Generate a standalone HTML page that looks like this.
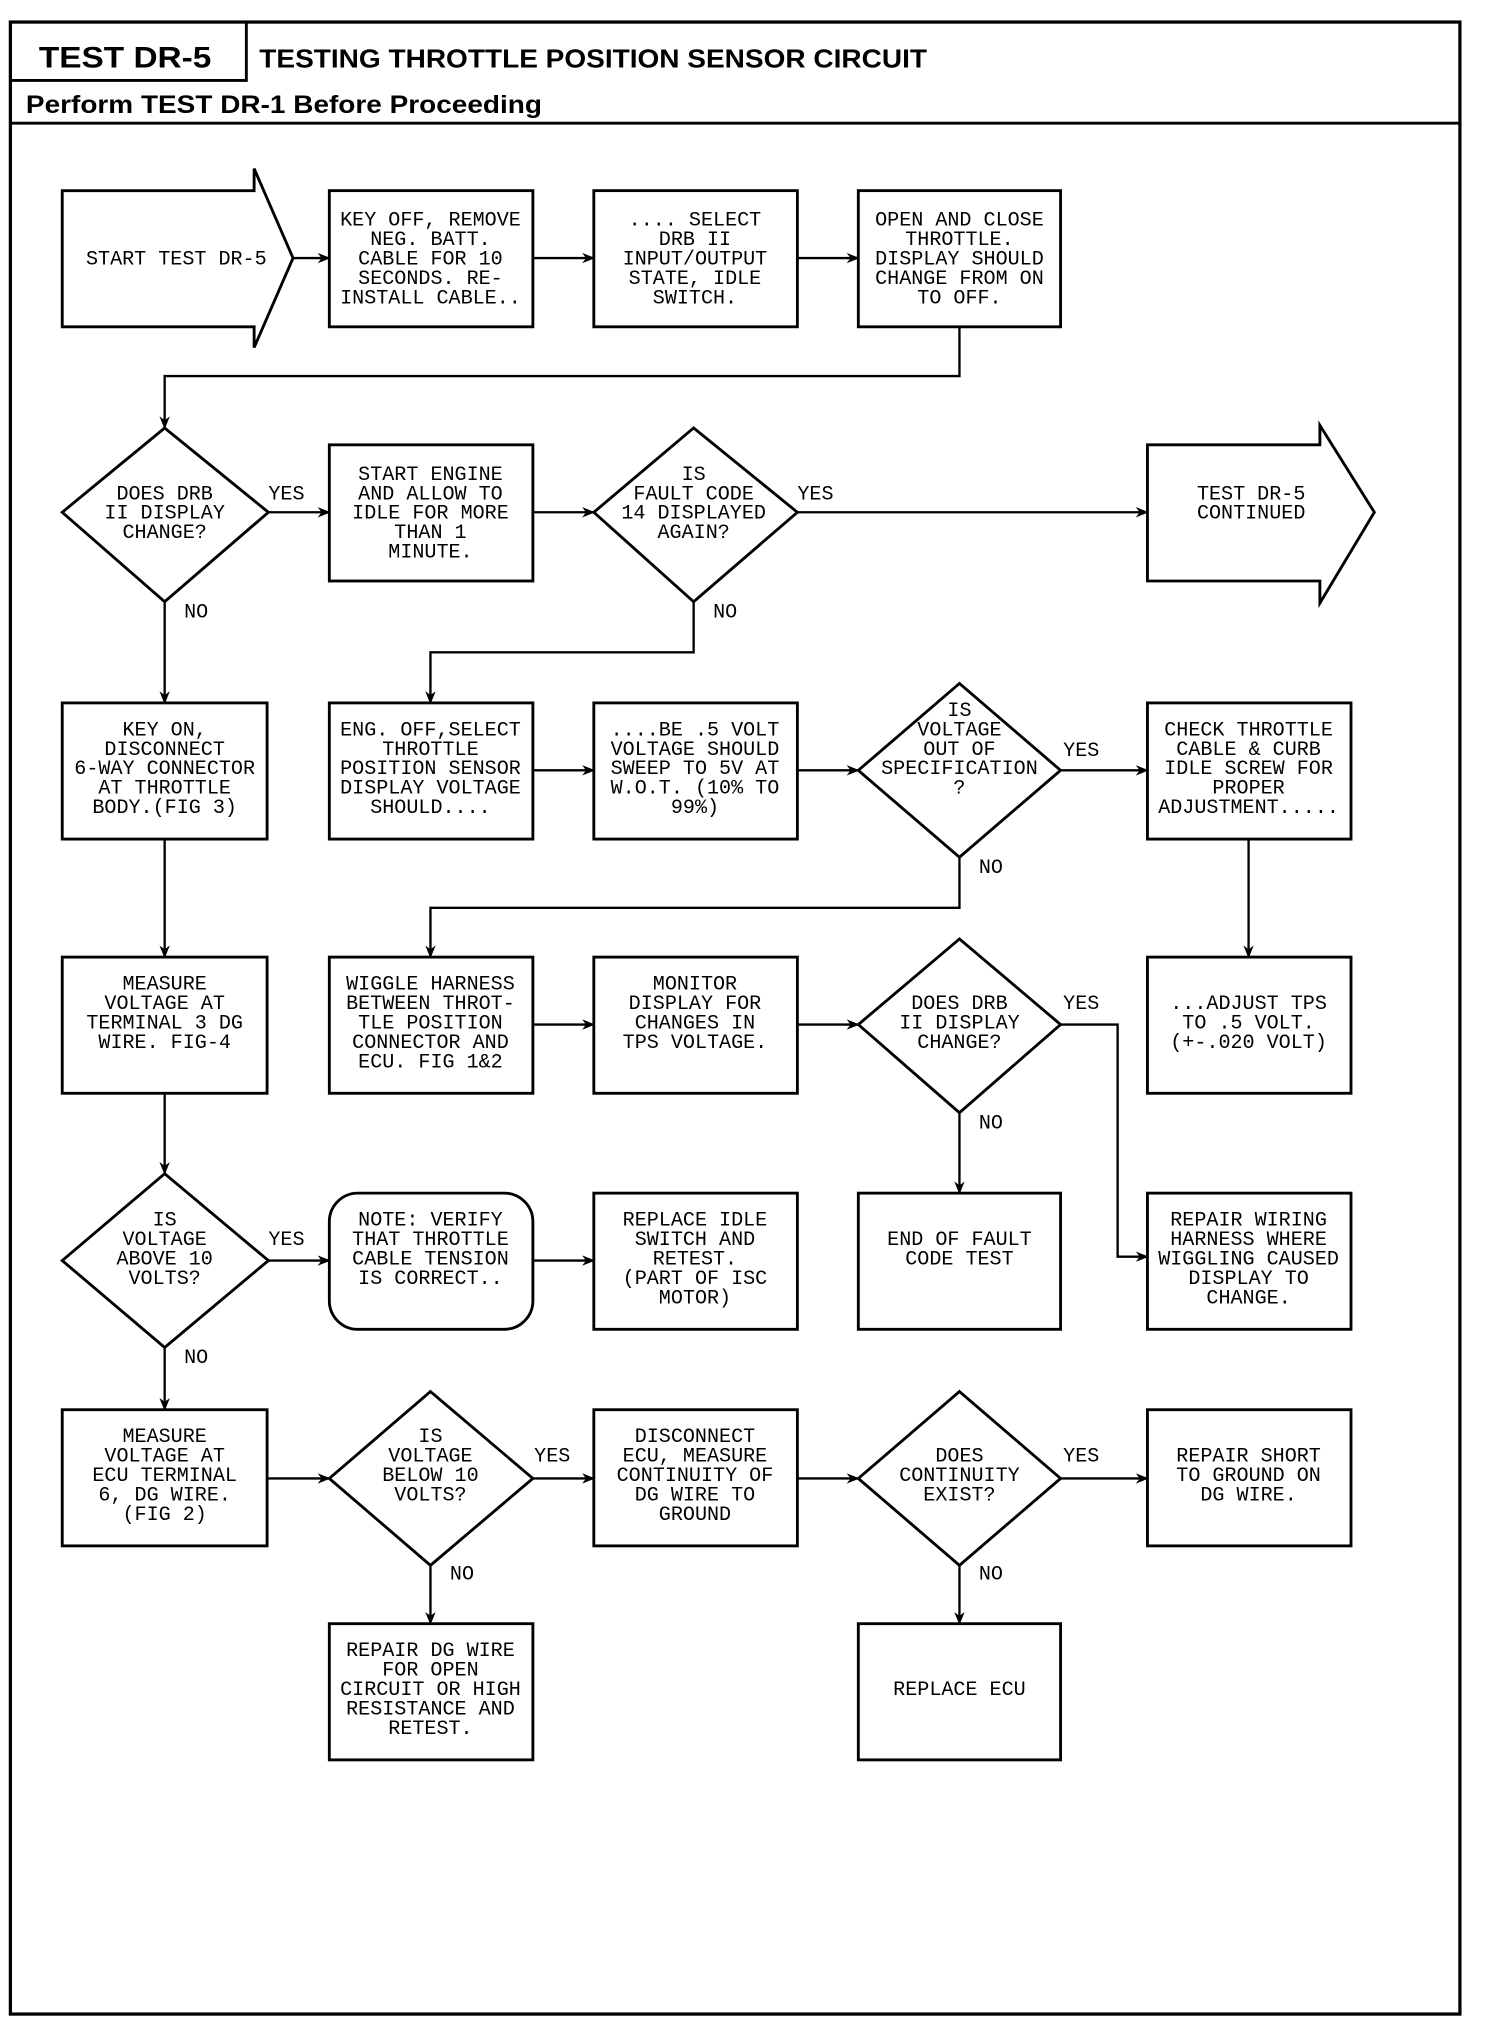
<!DOCTYPE html>
<html><head><meta charset="utf-8"><style>
html,body{margin:0;padding:0;background:#fff;}
svg{display:block;}
.t{font-family:"Liberation Mono",monospace;font-size:15.5px;text-anchor:middle;fill:#000;}
.l{font-family:"Liberation Mono",monospace;font-size:15.5px;fill:#000;}
.h{font-family:"Liberation Sans",sans-serif;font-weight:bold;fill:#000;}
</style></head><body>
<svg width="1504" height="2040" viewBox="0 0 1160 1573" preserveAspectRatio="none" xmlns="http://www.w3.org/2000/svg">
<defs><marker id="a" markerWidth="10" markerHeight="8" refX="9" refY="4" orient="auto" markerUnits="userSpaceOnUse"><path d="M0,0 L10,4 L0,8 L3,4 Z" fill="#000"/></marker></defs>
<g fill="none" stroke="#000" stroke-width="2.2">
<rect x="8" y="17" width="1118" height="1536" stroke-width="2.5"/>
<path d="M8,62 H190 V17"/>
<path d="M8,95 H1126"/>
<path d="M48,147 H196 V130 L226,199 L196,268 V252 H48 Z"/>
<rect x="254" y="147" width="157" height="105"/>
<rect x="458" y="147" width="157" height="105"/>
<rect x="662" y="147" width="156" height="105"/>
<path d="M127,330 L207,395 L127,464 L48,395 Z"/>
<rect x="254" y="343" width="157" height="105"/>
<path d="M535,330 L615,395 L535,464 L458,395 Z"/>
<path d="M885,343 H1018 V328 L1060,395 L1018,465 V448 H885 Z"/>
<rect x="48" y="542" width="158" height="105"/>
<rect x="254" y="542" width="157" height="105"/>
<rect x="458" y="542" width="157" height="105"/>
<path d="M740,527 L818,594 L740,661 L662,594 Z"/>
<rect x="885" y="542" width="157" height="105"/>
<rect x="48" y="738" width="158" height="105"/>
<rect x="254" y="738" width="157" height="105"/>
<rect x="458" y="738" width="157" height="105"/>
<path d="M740,724 L818,790 L740,858 L662,790 Z"/>
<rect x="885" y="738" width="157" height="105"/>
<path d="M127,905 L207,972 L127,1039 L48,972 Z"/>
<rect x="254" y="920" width="157" height="105" rx="22"/>
<rect x="458" y="920" width="157" height="105"/>
<rect x="662" y="920" width="156" height="105"/>
<rect x="885" y="920" width="157" height="105"/>
<rect x="48" y="1087" width="158" height="105"/>
<path d="M332,1073 L411,1140 L332,1207 L254,1140 Z"/>
<rect x="458" y="1087" width="157" height="105"/>
<path d="M740,1073 L818,1140 L740,1207 L662,1140 Z"/>
<rect x="885" y="1087" width="157" height="105"/>
<rect x="254" y="1252" width="157" height="105"/>
<rect x="662" y="1252" width="156" height="105"/>
</g>
<g fill="none" stroke="#000" stroke-width="1.8" marker-end="url(#a)">
<path d="M226,199 H254"/><path d="M411,199 H458"/><path d="M615,199 H662"/>
<path d="M740,252 V290 H127 V330"/>
<path d="M207,395 H254"/><path d="M411,395 H458"/><path d="M615,395 H885"/>
<path d="M127,464 V542"/><path d="M535,464 V503 H332 V542"/>
<path d="M411,594 H458"/><path d="M615,594 H662"/><path d="M818,594 H885"/>
<path d="M740,661 V700 H332 V738"/>
<path d="M127,647 V738"/><path d="M963,647 V738"/>
<path d="M411,790 H458"/><path d="M615,790 H662"/>
<path d="M818,790 H862 V969 H885"/><path d="M740,858 V920"/>
<path d="M127,843 V905"/>
<path d="M207,972 H254"/><path d="M411,972 H458"/>
<path d="M127,1039 V1087"/>
<path d="M206,1140 H254"/><path d="M411,1140 H458"/><path d="M615,1140 H662"/><path d="M818,1140 H885"/>
<path d="M332,1207 V1252"/><path d="M740,1207 V1252"/>
</g>
<text class="h" x="30" y="52" font-size="23" textLength="133" lengthAdjust="spacingAndGlyphs">TEST DR-5</text>
<text class="h" x="200" y="52" font-size="20" textLength="515" lengthAdjust="spacingAndGlyphs">TESTING THROTTLE POSITION SENSOR CIRCUIT</text>
<text class="h" x="20" y="87" font-size="19" textLength="398" lengthAdjust="spacingAndGlyphs">Perform TEST DR-1 Before Proceeding</text>
<g class="t">
<text x="136" y="204">START TEST DR-5</text>
<text x="332" y="174">KEY OFF, REMOVE<tspan x="332" dy="15">NEG. BATT.</tspan><tspan x="332" dy="15">CABLE FOR 10</tspan><tspan x="332" dy="15">SECONDS. RE-</tspan><tspan x="332" dy="15">INSTALL CABLE..</tspan></text>
<text x="536" y="174">.... SELECT<tspan x="536" dy="15">DRB II</tspan><tspan x="536" dy="15">INPUT/OUTPUT</tspan><tspan x="536" dy="15">STATE, IDLE</tspan><tspan x="536" dy="15">SWITCH.</tspan></text>
<text x="740" y="174">OPEN AND CLOSE<tspan x="740" dy="15">THROTTLE.</tspan><tspan x="740" dy="15">DISPLAY SHOULD</tspan><tspan x="740" dy="15">CHANGE FROM ON</tspan><tspan x="740" dy="15">TO OFF.</tspan></text>
<text x="127" y="385">DOES DRB<tspan x="127" dy="15">II DISPLAY</tspan><tspan x="127" dy="15">CHANGE?</tspan></text>
<text x="332" y="370">START ENGINE<tspan x="332" dy="15">AND ALLOW TO</tspan><tspan x="332" dy="15">IDLE FOR MORE</tspan><tspan x="332" dy="15">THAN 1</tspan><tspan x="332" dy="15">MINUTE.</tspan></text>
<text x="535" y="370">IS<tspan x="535" dy="15">FAULT CODE</tspan><tspan x="535" dy="15">14 DISPLAYED</tspan><tspan x="535" dy="15">AGAIN?</tspan></text>
<text x="965" y="385">TEST DR-5<tspan x="965" dy="15">CONTINUED</tspan></text>
<text x="127" y="567">KEY ON,<tspan x="127" dy="15">DISCONNECT</tspan><tspan x="127" dy="15">6-WAY CONNECTOR</tspan><tspan x="127" dy="15">AT THROTTLE</tspan><tspan x="127" dy="15">BODY.(FIG 3)</tspan></text>
<text x="332" y="567">ENG. OFF,SELECT<tspan x="332" dy="15">THROTTLE</tspan><tspan x="332" dy="15">POSITION SENSOR</tspan><tspan x="332" dy="15">DISPLAY VOLTAGE</tspan><tspan x="332" dy="15">SHOULD....</tspan></text>
<text x="536" y="567">....BE .5 VOLT<tspan x="536" dy="15">VOLTAGE SHOULD</tspan><tspan x="536" dy="15">SWEEP TO 5V AT</tspan><tspan x="536" dy="15">W.O.T. (10% TO</tspan><tspan x="536" dy="15">99%)</tspan></text>
<text x="740" y="552">IS<tspan x="740" dy="15">VOLTAGE</tspan><tspan x="740" dy="15">OUT OF</tspan><tspan x="740" dy="15">SPECIFICATION</tspan><tspan x="740" dy="15">?</tspan></text>
<text x="963" y="567">CHECK THROTTLE<tspan x="963" dy="15">CABLE &amp; CURB</tspan><tspan x="963" dy="15">IDLE SCREW FOR</tspan><tspan x="963" dy="15">PROPER</tspan><tspan x="963" dy="15">ADJUSTMENT.....</tspan></text>
<text x="127" y="763">MEASURE<tspan x="127" dy="15">VOLTAGE AT</tspan><tspan x="127" dy="15">TERMINAL 3 DG</tspan><tspan x="127" dy="15">WIRE. FIG-4</tspan></text>
<text x="332" y="763">WIGGLE HARNESS<tspan x="332" dy="15">BETWEEN THROT-</tspan><tspan x="332" dy="15">TLE POSITION</tspan><tspan x="332" dy="15">CONNECTOR AND</tspan><tspan x="332" dy="15">ECU. FIG 1&amp;2</tspan></text>
<text x="536" y="763">MONITOR<tspan x="536" dy="15">DISPLAY FOR</tspan><tspan x="536" dy="15">CHANGES IN</tspan><tspan x="536" dy="15">TPS VOLTAGE.</tspan></text>
<text x="740" y="778">DOES DRB<tspan x="740" dy="15">II DISPLAY</tspan><tspan x="740" dy="15">CHANGE?</tspan></text>
<text x="963" y="778">...ADJUST TPS<tspan x="963" dy="15">TO .5 VOLT.</tspan><tspan x="963" dy="15">(+-.020 VOLT)</tspan></text>
<text x="127" y="945">IS<tspan x="127" dy="15">VOLTAGE</tspan><tspan x="127" dy="15">ABOVE 10</tspan><tspan x="127" dy="15">VOLTS?</tspan></text>
<text x="332" y="945">NOTE: VERIFY<tspan x="332" dy="15">THAT THROTTLE</tspan><tspan x="332" dy="15">CABLE TENSION</tspan><tspan x="332" dy="15">IS CORRECT..</tspan></text>
<text x="536" y="945">REPLACE IDLE<tspan x="536" dy="15">SWITCH AND</tspan><tspan x="536" dy="15">RETEST.</tspan><tspan x="536" dy="15">(PART OF ISC</tspan><tspan x="536" dy="15">MOTOR)</tspan></text>
<text x="740" y="960">END OF FAULT<tspan x="740" dy="15">CODE TEST</tspan></text>
<text x="963" y="945">REPAIR WIRING<tspan x="963" dy="15">HARNESS WHERE</tspan><tspan x="963" dy="15">WIGGLING CAUSED</tspan><tspan x="963" dy="15">DISPLAY TO</tspan><tspan x="963" dy="15">CHANGE.</tspan></text>
<text x="127" y="1112">MEASURE<tspan x="127" dy="15">VOLTAGE AT</tspan><tspan x="127" dy="15">ECU TERMINAL</tspan><tspan x="127" dy="15">6, DG WIRE.</tspan><tspan x="127" dy="15">(FIG 2)</tspan></text>
<text x="332" y="1112">IS<tspan x="332" dy="15">VOLTAGE</tspan><tspan x="332" dy="15">BELOW 10</tspan><tspan x="332" dy="15">VOLTS?</tspan></text>
<text x="536" y="1112">DISCONNECT<tspan x="536" dy="15">ECU, MEASURE</tspan><tspan x="536" dy="15">CONTINUITY OF</tspan><tspan x="536" dy="15">DG WIRE TO</tspan><tspan x="536" dy="15">GROUND</tspan></text>
<text x="740" y="1127">DOES<tspan x="740" dy="15">CONTINUITY</tspan><tspan x="740" dy="15">EXIST?</tspan></text>
<text x="963" y="1127">REPAIR SHORT<tspan x="963" dy="15">TO GROUND ON</tspan><tspan x="963" dy="15">DG WIRE.</tspan></text>
<text x="332" y="1277">REPAIR DG WIRE<tspan x="332" dy="15">FOR OPEN</tspan><tspan x="332" dy="15">CIRCUIT OR HIGH</tspan><tspan x="332" dy="15">RESISTANCE AND</tspan><tspan x="332" dy="15">RETEST.</tspan></text>
<text x="740" y="1307">REPLACE ECU</text>
</g>
<g class="l">
<text x="207" y="385">YES</text><text x="615" y="385">YES</text>
<text x="142" y="476">NO</text><text x="550" y="476">NO</text>
<text x="820" y="583">YES</text><text x="755" y="673">NO</text>
<text x="820" y="778">YES</text><text x="755" y="870">NO</text>
<text x="207" y="960">YES</text><text x="142" y="1051">NO</text>
<text x="412" y="1127">YES</text><text x="820" y="1127">YES</text>
<text x="347" y="1218">NO</text><text x="755" y="1218">NO</text>
</g>
</svg>
</body></html>
